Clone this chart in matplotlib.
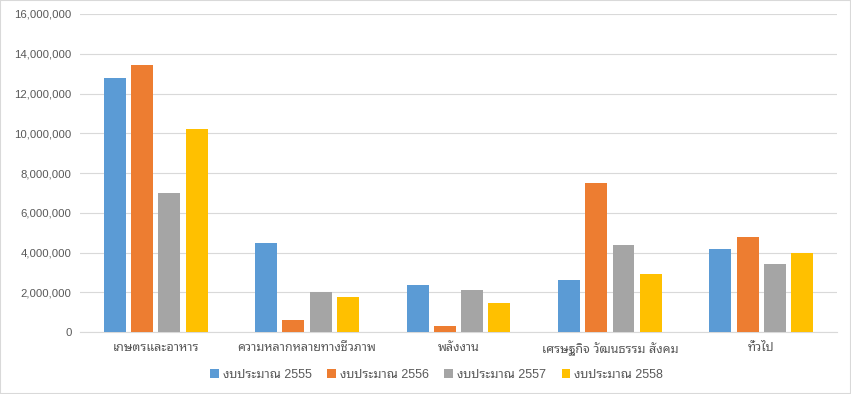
import numpy as np
import matplotlib
matplotlib.use('Agg')
import matplotlib.pyplot as plt
from matplotlib.ticker import FuncFormatter

categories = ['เกษตรและอาหาร', 'ความหลากหลายทางชีวภาพ', 'พลังงาน',
              'เศรษฐกิจ วัฒนธรรม สังคม', 'ทั่วไป']
series_names = ['งบประมาณ 2555', 'งบประมาณ 2556', 'งบประมาณ 2557', 'งบประมาณ 2558']
budget_2555 = [12780000, 4480000, 2360000, 2620000, 4180000]
budget_2556 = [13430000, 600000, 300000, 7500000, 4780000]
budget_2557 = [7000000, 2010000, 2110000, 4380000, 3420000]
budget_2558 = [10210000, 1760000, 1460000, 2920000, 3970000]
colors = ['#5B9BD5', '#ED7D31', '#A5A5A5', '#FFC000']

plt.rcParams['font.family'] = ['Liberation Sans', 'Noto Sans Thai Looped',
                               'Noto Sans Thai', 'DejaVu Sans']

fig = plt.figure(figsize=(8.51, 3.94), dpi=100)
ax = fig.add_axes([0.094, 0.157, 0.8895, 0.8075])

x = np.arange(len(categories))
width = 0.145
step = 0.18
all_series = [budget_2555, budget_2556, budget_2557, budget_2558]
for i, vals in enumerate(all_series):
    ax.bar(x + (i - 1.5) * step, vals, width, color=colors[i],
           label=series_names[i], zorder=3)

ax.set_xlim(-0.5, len(categories) - 0.5)
ax.set_ylim(0, 16000000)
ax.set_yticks(np.arange(0, 16000001, 2000000))
ax.yaxis.set_major_formatter(FuncFormatter(lambda v, p: f'{int(v):,}'))
ax.grid(axis='y', color='#D9D9D9', linewidth=0.8, zorder=0)
for s in ['top', 'right', 'left']:
    ax.spines[s].set_visible(False)
ax.spines['bottom'].set_color('#D9D9D9')
ax.set_xticks(x)
ax.set_xticklabels(categories)
ax.tick_params(axis='both', length=0, labelsize=8.2, colors='#595959', pad=6)
ax.tick_params(axis='x', labelsize=9, pad=7)

fig.legend(loc='center', bbox_to_anchor=(0.513, 0.048), ncol=4, frameon=False,
           fontsize=9, labelcolor='#595959', handlelength=0.7, handleheight=0.7,
           handletextpad=0.3, columnspacing=1.25)

fig.patches.append(plt.Rectangle((0, 0), 1, 1, transform=fig.transFigure,
                                 fill=False, edgecolor='#D9D9D9', linewidth=1.5))
fig.savefig('out.png', dpi=100)
